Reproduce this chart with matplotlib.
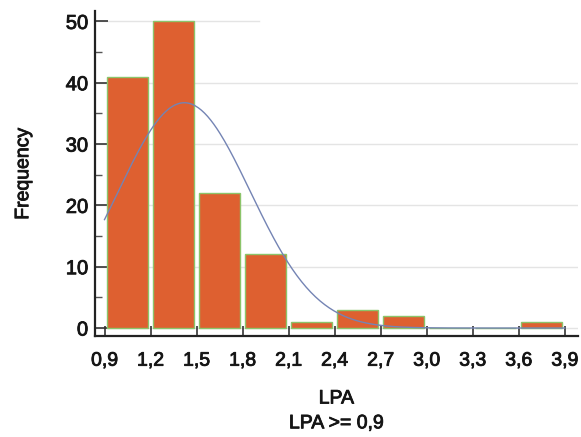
import numpy as np
import matplotlib.pyplot as plt
import matplotlib.patheffects as pe

plt.rcParams["font.family"] = ["Liberation Sans", "DejaVu Sans"]

# histogram of LPA (bins of 0.3 from 0.9 to 3.9)
bin_edges = [0.9, 1.2, 1.5, 1.8, 2.1, 2.4, 2.7, 3.0, 3.3, 3.6, 3.9]
counts = [41, 50, 22, 12, 1, 3, 2, 0, 0, 1]
tick_labels = ["0,9", "1,2", "1,5", "1,8", "2,1", "2,4", "2,7", "3,0", "3,3", "3,6", "3,9"]

# fitted normal curve parameters
fit_mean = 1.42
fit_sd = 0.43

bar_color = "#de6030"
edge_color = "#8cc46a"
curve_color = "#7484b4"
text_color = "#151515"

fig = plt.figure(figsize=(5.81, 4.37), dpi=100)
ax = fig.add_axes([0.1635, 0.2311, 0.831, 0.7437])

edges = np.array(bin_edges)
width = edges[1] - edges[0]
n_total = sum(counts)

# grid lines
for yv in [10, 20, 30, 40]:
    ax.axhline(yv, color="#e4e4e4", linewidth=1.0, zorder=0)
ax.axhline(50, xmax=0.34, color="#e4e4e4", linewidth=1.0, zorder=0)
ax.axhline(0, color="#e4e4e4", linewidth=1.0, zorder=0)

ax.bar(edges[:-1] + width / 2, counts, width=width * 0.88,
       color=bar_color, edgecolor=edge_color, linewidth=1.0, zorder=2)

xs = np.linspace(edges[0], edges[-1], 300)
ys = n_total * width / (fit_sd * np.sqrt(2 * np.pi)) * np.exp(-(xs - fit_mean) ** 2 / (2 * fit_sd ** 2))
ax.plot(xs, ys, color=curve_color, linewidth=1.0, zorder=3)

ax.set_xlim(0.838, 3.985)
ax.set_ylim(-1.3, 51.7)
ax.set_xticks(edges)
ax.set_xticklabels(tick_labels)
ax.set_yticks([0, 10, 20, 30, 40, 50])
ax.set_yticks([5, 15, 25, 35, 45], minor=True)

for side in ["top", "right"]:
    ax.spines[side].set_visible(False)
for side in ["left", "bottom"]:
    ax.spines[side].set_color("#222222")
    ax.spines[side].set_linewidth(1.6)

ax.tick_params(axis="x", direction="in", length=7, width=1.2, colors="#333333",
               labelcolor=text_color, labelsize=14, pad=12)
ax.tick_params(axis="y", which="major", direction="in", length=9, width=1.2,
               colors="#333333", labelcolor=text_color, labelsize=14.5, pad=5)
ax.tick_params(axis="y", which="minor", direction="in", length=5, width=1.0,
               colors="#555555")

ax.set_ylabel("Frequency", fontsize=14, color=text_color)
ax.yaxis.set_label_coords(-0.130, 0.5)
ax.set_xlabel("LPA\nLPA >= 0,9", fontsize=14, color=text_color, labelpad=15,
              linespacing=1.6)

# slightly heavier text, like the reference rendering
heavy = [pe.withStroke(linewidth=0.6, foreground=text_color)]
for t in ax.get_xticklabels() + ax.get_yticklabels() + [ax.xaxis.label, ax.yaxis.label]:
    t.set_path_effects(heavy)

plt.savefig("out.png", dpi=100)
plt.close()
